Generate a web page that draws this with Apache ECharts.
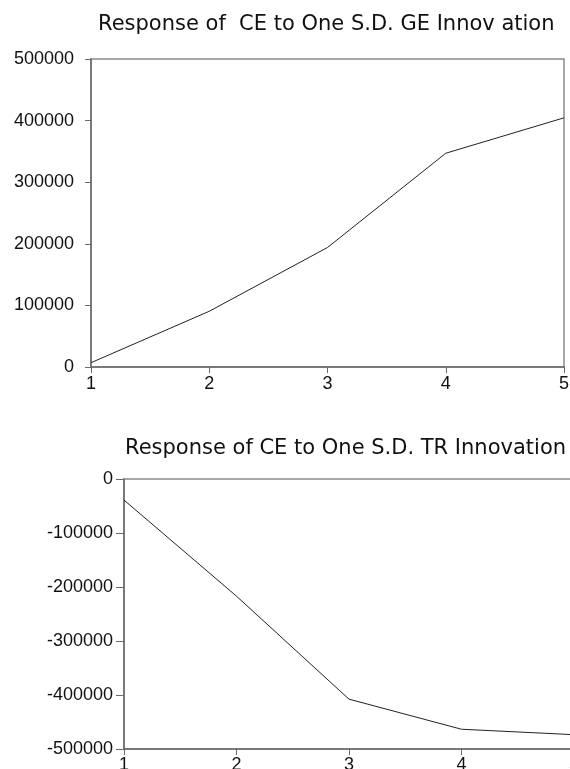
<!DOCTYPE html>
<html>
<head>
<meta charset="utf-8">
<script src="https://cdn.jsdelivr.net/npm/echarts@6/dist/echarts.min.js"></script>
<style>
html,body{margin:0;padding:0;background:#fff;}
#chart{width:570px;height:769px;}
</style>
</head>
<body>
<div id="chart"></div>
<script>
// Data
var periods = ['1', '2', '3', '4', '5'];
var geResponse = [7000, 90500, 194000, 347000, 404500];
var trResponse = [-39000, -217000, -407700, -463400, -473500];
var titleGE = 'Response of  CE to One S.D. GE Innov ation';
var titleTR = 'Response of CE to One S.D. TR Innovation';

var chart = echarts.init(document.getElementById('chart'), null, {renderer: 'canvas'});

var axisCol = '#6a6a6a';
var labelFont = {color: '#111', fontSize: 18, fontFamily: 'Liberation Sans, Arial, sans-serif'};
var titleFont = {color: '#111', fontSize: 21, fontWeight: 'normal', fontFamily: 'DejaVu Sans, sans-serif'};

function xAx(gi, margin) {
  return {
    gridIndex: gi, type: 'category', data: periods, boundaryGap: false,
    axisLine: {onZero: false, lineStyle: {color: axisCol, width: 1.5}},
    axisTick: {show: true, length: 6, inside: false, lineStyle: {color: axisCol, width: 1}},
    axisLabel: Object.assign({margin: margin, interval: 0}, labelFont),
    splitLine: {show: false}
  };
}
function yAx(gi, min, max, margin, tickLen) {
  return {
    gridIndex: gi, type: 'value', min: min, max: max, interval: 100000,
    axisLine: {show: true, lineStyle: {color: axisCol, width: 1.5}},
    axisTick: {show: true, length: tickLen, lineStyle: {color: axisCol, width: 1}},
    axisLabel: Object.assign({margin: margin, formatter: function (v) { return String(v); }}, labelFont),
    splitLine: {show: false}
  };
}

chart.setOption({
  animation: false,
  backgroundColor: '#ffffff',
  title: [
    {text: titleGE, left: 98, top: 14, padding: 0, textStyle: titleFont},
    {text: titleTR, left: 125, top: 438, padding: 0, textStyle: titleFont}
  ],
  grid: [
    {left: 91, top: 59, width: 473, height: 308, show: true, borderColor: '#8a8a8a', borderWidth: 1.5,
     backgroundColor: 'transparent', outerBoundsMode: 'none', containLabel: false},
    {left: 124, top: 479, width: 450, height: 270, show: true, borderColor: '#8a8a8a', borderWidth: 1.5,
     backgroundColor: 'transparent', outerBoundsMode: 'none', containLabel: false}
  ],
  xAxis: [xAx(0, 8), xAx(1, 7)],
  yAxis: [yAx(0, 0, 500000, 17, 6), yAx(1, -500000, 0, 11, 8)],
  series: [
    {type: 'line', xAxisIndex: 0, yAxisIndex: 0, data: geResponse, symbol: 'none',
     lineStyle: {color: '#222', width: 1}},
    {type: 'line', xAxisIndex: 1, yAxisIndex: 1, data: trResponse, symbol: 'none',
     lineStyle: {color: '#222', width: 1}}
  ]
});
</script>
</body>
</html>
